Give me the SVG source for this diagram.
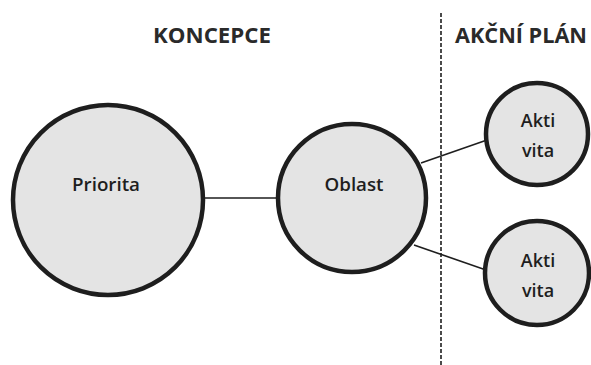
<svg xmlns="http://www.w3.org/2000/svg" width="591" height="365" viewBox="0 0 591 365">
<style>
.node{fill:#e4e4e4;stroke:#1e1e1e;stroke-width:4.5}
.lbl{font-family:"Open Sans","Liberation Sans",sans-serif;font-size:18px;font-weight:600;fill:#1e1e1e;text-anchor:middle}
.title{font-family:"Open Sans","Liberation Sans",sans-serif;font-size:21px;font-weight:700;fill:#2a2a2a}
.conn{stroke:#1e1e1e;stroke-width:1.6;fill:none}
.div{stroke:#1e1e1e;stroke-width:1.6;stroke-dasharray:4 2;fill:none}
</style>
<rect width="591" height="365" fill="#ffffff"/>
<text class="title" x="153" y="43" textLength="118" lengthAdjust="spacingAndGlyphs">KONCEPCE</text>
<text class="title" x="455" y="43" textLength="132" lengthAdjust="spacingAndGlyphs">AKČNÍ PLÁN</text>
<line class="div" x1="441" y1="13" x2="441" y2="365"/>
<g id="connectors">
<line class="conn" x1="204" y1="198" x2="278" y2="198"/>
<line class="conn" x1="421" y1="163" x2="487" y2="140"/>
<line class="conn" x1="414" y1="245" x2="486" y2="270"/>
</g>
<g id="priorita">
<circle class="node" cx="108" cy="200" r="95"/>
<text class="lbl" x="106" y="191" textLength="68" lengthAdjust="spacingAndGlyphs">Priorita</text>
</g>
<g id="oblast">
<circle class="node" cx="352" cy="198" r="74"/>
<text class="lbl" x="354" y="191" textLength="59" lengthAdjust="spacingAndGlyphs">Oblast</text>
</g>
<g id="aktivita1">
<circle class="node" cx="537" cy="134" r="51"/>
<text class="lbl" x="538" y="127">Akti</text>
<text class="lbl" x="538" y="157">vita</text>
</g>
<g id="aktivita2">
<circle class="node" cx="537" cy="273" r="52"/>
<text class="lbl" x="538" y="267">Akti</text>
<text class="lbl" x="538" y="297">vita</text>
</g>
</svg>
